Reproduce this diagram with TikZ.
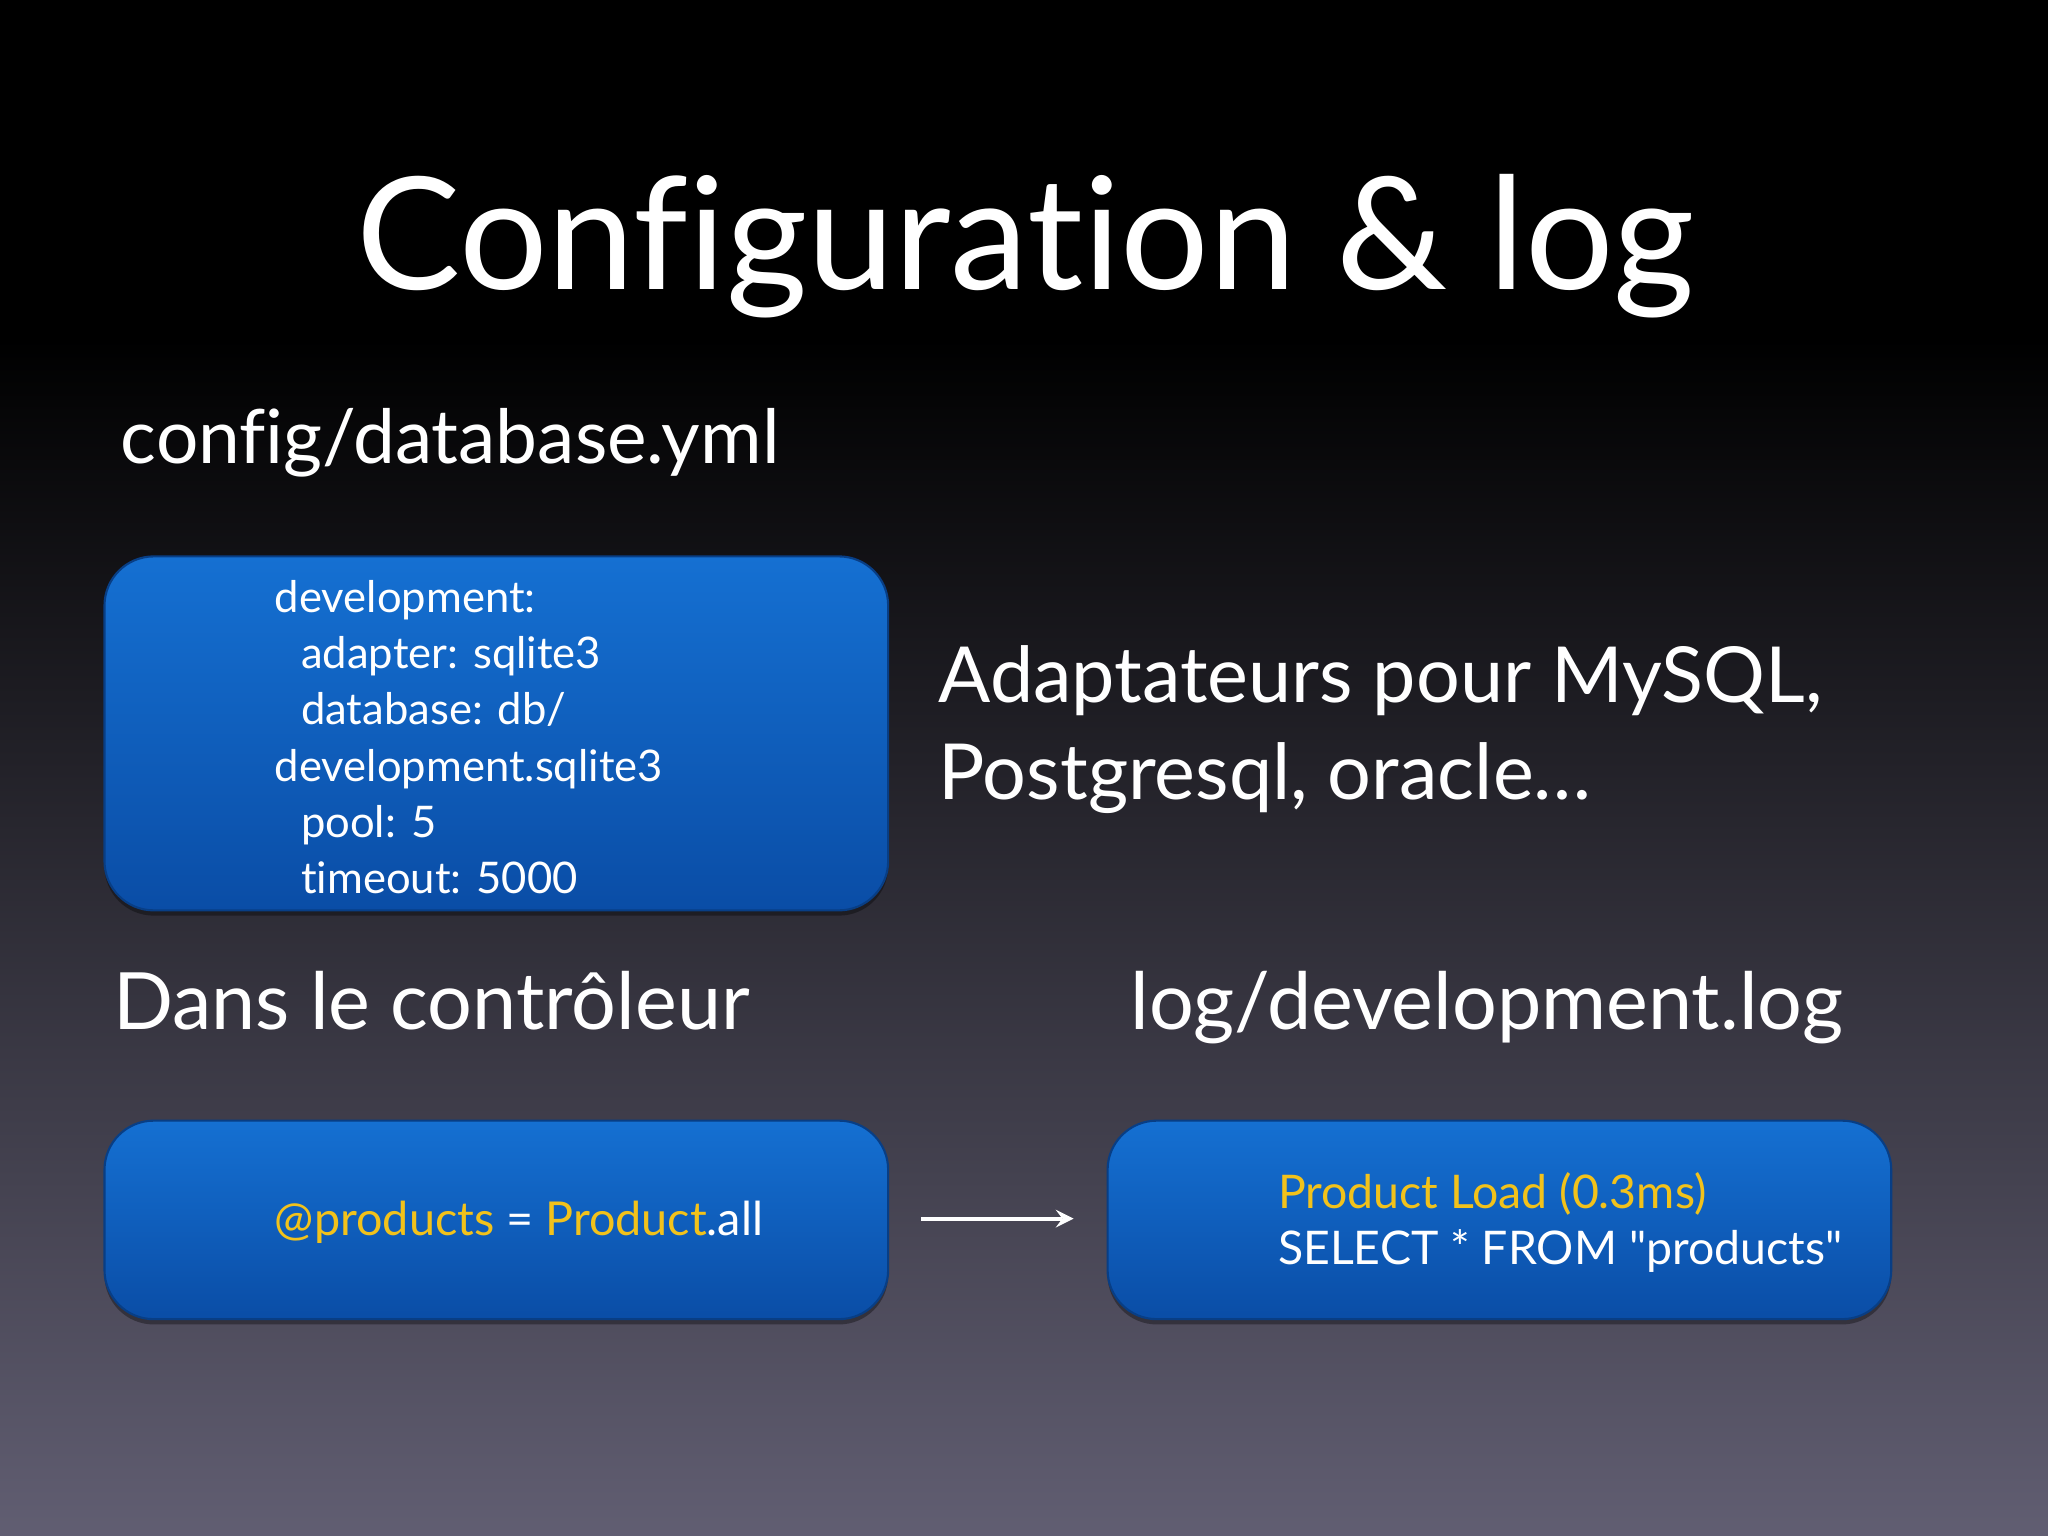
\documentclass[tikz,border=0pt]{standalone}
\usepackage{fontspec}
\setmainfont{Lato}[Ligatures={NoCommon}]
\newfontfamily\qfont{Lato}
\usetikzlibrary{shadows}
\definecolor{ylw}{HTML}{F2C21B}
\definecolor{boxtop}{HTML}{1570D2}
\definecolor{boxbot}{HTML}{0A4DA6}
\definecolor{bgbot}{HTML}{615E72}
\tikzset{
  panel/.style={rounded corners=14pt, top color=boxtop, bottom color=boxbot, draw=boxbot!80!black, line width=0.6pt, drop shadow={shadow xshift=0pt, shadow yshift=-1.5pt, opacity=0.35, fill=black}},
  txt/.style={anchor=base west, text=white, inner sep=0pt},
}
\begin{document}
\begin{tikzpicture}[x=0.013061cm,y=-0.013061cm]
\useasboundingbox (0,0) rectangle (1568,1176);
\fill[black] (0,0) rectangle (1568,260);
\shade[top color=black, bottom color=bgbot] (0,259) rectangle (1568,1176);
\node[anchor=base, text=white, inner sep=0pt, font=\fontsize{44.5}{52}\selectfont] (title) at (785,222) {Configuration \& log};
\node[txt, font=\fontsize{21.3}{26}\selectfont] (cfg) at (92,355) {config/database.yml};
\draw[panel] (80,426) rectangle (680,697);
\begin{scope}[every node/.style={txt, font=\fontsize{12.4}{15}\selectfont}]
\node (l1) at (210,469) {development:};
\node (l2) at (230,512) {adapter: sqlite3};
\node (l3) at (230,555) {database: db/};
\node (l4) at (210,598) {development.sqlite3};
\node (l5) at (230,641) {pool: 5};
\node (l6) at (230,684) {timeout: 5000};
\end{scope}
\node[txt, font=\fontsize{22}{27}\selectfont] (ad1) at (718,538) {Adaptateurs pour MySQL,};
\node[txt, font=\fontsize{22}{27}\selectfont] (ad2) at (718,612) {Postgresql, oracle\ldots};
\node[txt, font=\fontsize{22.5}{27}\selectfont] (dans) at (86,788) {Dans le contrôleur};
\node[txt, font=\fontsize{22.5}{27}\selectfont] (logf) at (865,788) {log/development.log};
\draw[panel] (80,858) rectangle (680,1010);
\draw[panel] (848,858) rectangle (1448,1010);
\node[txt, font=\fontsize{13.3}{16}\selectfont] (code) at (210,946) {\textcolor{ylw}{@products} = \textcolor{ylw}{Product}.all};
\node[txt, font=\fontsize{13.2}{16}\selectfont, text=ylw] (pl) at (978,925) {Product Load (0.3ms)};
\node[txt, font=\fontsize{13.2}{16}\selectfont] (sel) at (978,968) {SELECT * FROM {\qfont"}products{\qfont"}};
\coordinate (a1) at (705,933);
\coordinate (a2) at (822,933);
\draw[white, line width=1.2pt, -stealth] (a1) -- (a2);
\end{tikzpicture}
\end{document}
